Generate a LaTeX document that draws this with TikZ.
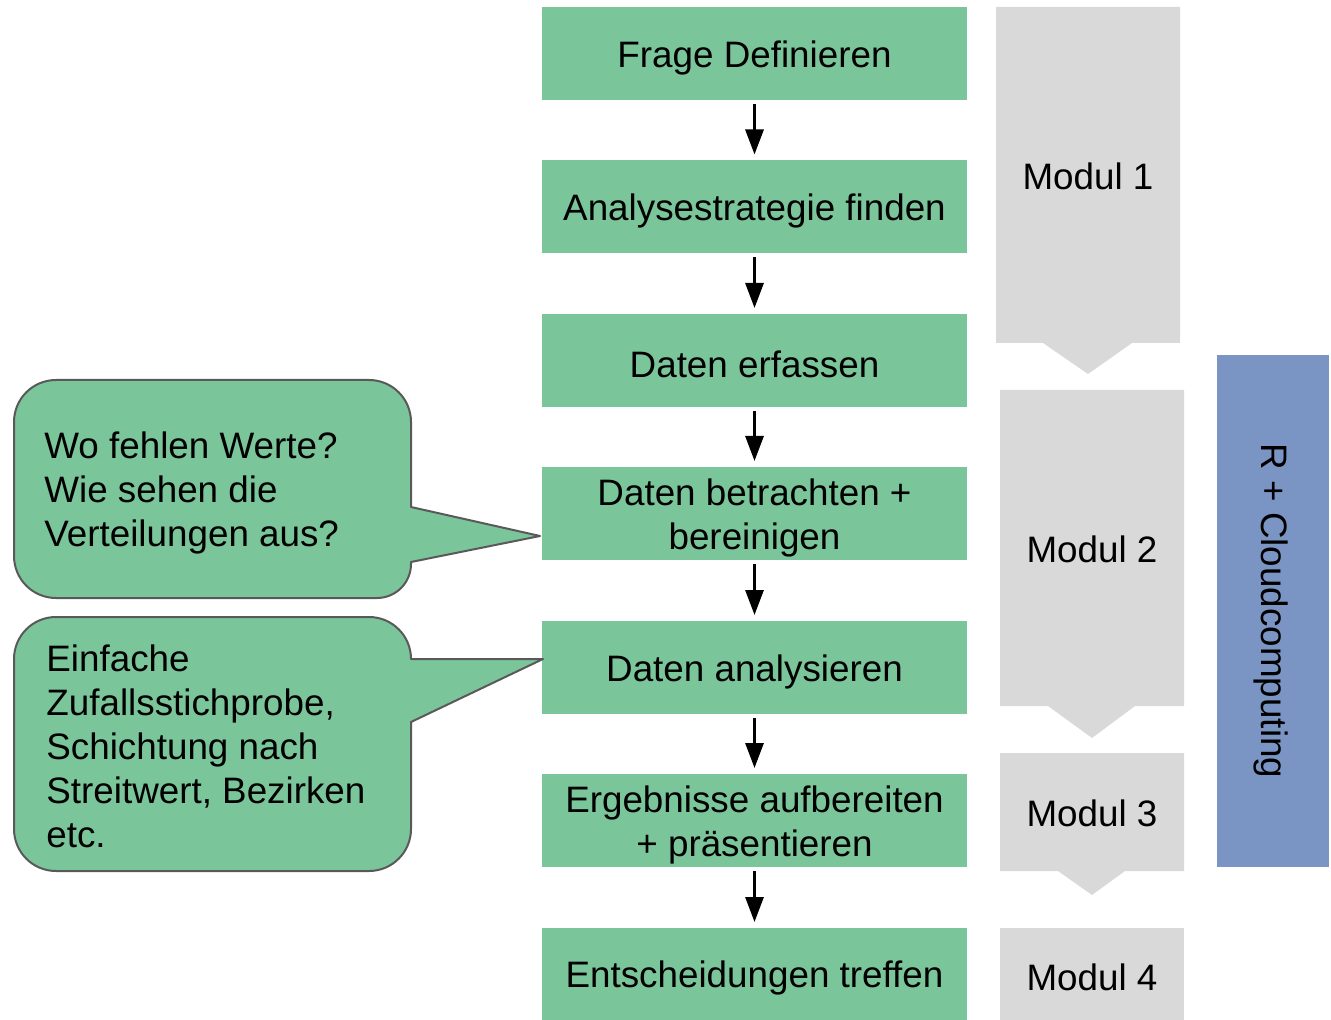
\documentclass[tikz,border=0pt]{standalone}
\usepackage{fontspec}
\setmainfont{Liberation Sans}
\usetikzlibrary{arrows.meta,calc}
\definecolor{stepgreen}{HTML}{7BC59B}
\definecolor{modgray}{HTML}{D9D9D9}
\definecolor{toolblue}{HTML}{7A94C4}
\definecolor{edgegray}{HTML}{595959}
\begin{document}
\begin{tikzpicture}[x=0.5pt,y=-0.5pt,
  txt/.style={font=\fontsize{18.4pt}{22pt}\selectfont, text=black},
  steplabel/.style={txt, align=center, inner sep=0pt, yshift=-2pt},
  stepbox/.style={fill=stepgreen, minimum width=212.5pt, minimum height=46.5pt,
    inner sep=0pt, outer sep=0pt},
  flow/.style={line width=1.5pt, -{Triangle[length=12.5pt,width=9pt]},
    shorten <=2pt, shorten >=3pt},
  modfill/.style={fill=modgray},
  note/.style={txt, anchor=west, align=left, inner sep=0pt},
  callout/.style={fill=stepgreen, draw=edgegray, line width=1pt, line join=round}]
\useasboundingbox (0,0) rectangle (1331,1020);

% process steps
\node[stepbox, label={[steplabel]center:Frage Definieren}] (s1) at (754.5,53.5) {};
\node[stepbox, label={[steplabel]center:Analysestrategie finden}] (s2) at (754.5,207) {};
\node[stepbox, label={[steplabel]center:Daten erfassen}] (s3) at (754.5,360.5) {};
\node[stepbox, label={[steplabel]center:{Daten betrachten +\\bereinigen}}] (s4) at (754.5,513.5) {};
\node[stepbox, label={[steplabel]center:Daten analysieren}] (s5) at (754.5,667.5) {};
\node[stepbox, label={[steplabel]center:{Ergebnisse aufbereiten\\+ präsentieren}}] (s6) at (754.5,820.5) {};
\node[stepbox, minimum height=46pt, label={[steplabel]center:Entscheidungen treffen}] (s7) at (754.5,974) {};

\foreach \a/\b in {s1/s2,s2/s3,s3/s4,s4/s5,s5/s6,s6/s7}
  \draw[flow] (\a.south) -- (\b.north);

% module bands
\fill[modfill] (996,7) -- (1180,7) -- (1180,343) -- (1132,343) -- (1088,374)
  -- (1043,343) -- (996,343) -- cycle;
\fill[modfill] (1000,390) -- (1184,390) -- (1184,706) -- (1135,706) -- (1092,738)
  -- (1048,706) -- (1000,706) -- cycle;
\fill[modfill] (1000,753) -- (1184,753) -- (1184,871) -- (1125,871) -- (1092,895)
  -- (1058,871) -- (1000,871) -- cycle;
\fill[modfill] (1000,928) rectangle (1184,1020);
\node[txt] (m1) at (1088,176) {Modul 1};
\node[txt] (m2) at (1092,549) {Modul 2};
\node[txt] (m3) at (1092,813) {Modul 3};
\node[txt] (m4) at (1092,977) {Modul 4};

% tooling bar
\fill[toolblue] (1217,355) rectangle (1329,867);
\node[txt, rotate=-90] (tools) at (1271,611) {R + Cloudcomputing};

% callouts
\draw[callout] (411,507) -- (540,536) -- (411,562) -- (411,564)
  arc[start angle=0, end angle=-90, radius=17pt] -- (56,598)
  arc[start angle=270, end angle=180, radius=21pt] -- (14,422)
  arc[start angle=180, end angle=90, radius=21pt] -- (369,380)
  arc[start angle=90, end angle=0, radius=21pt] -- cycle;
\node[note] (c1) at (44,493)
  {Wo fehlen Werte?\\Wie sehen die\\Verteilungen aus?};

\draw[callout] (411,659) -- (543,659) -- (411,722) -- (411,829)
  arc[start angle=0, end angle=-90, radius=21pt] -- (56,871)
  arc[start angle=270, end angle=180, radius=21pt] -- (14,659)
  arc[start angle=180, end angle=90, radius=21pt] -- (369,617)
  arc[start angle=90, end angle=0, radius=21pt] -- cycle;
\node[note] (c2) at (46,746)
  {Einfache\\Zufallsstichprobe,\\Schichtung nach\\Streitwert, Bezirken\\etc.};
\end{tikzpicture}
\end{document}
